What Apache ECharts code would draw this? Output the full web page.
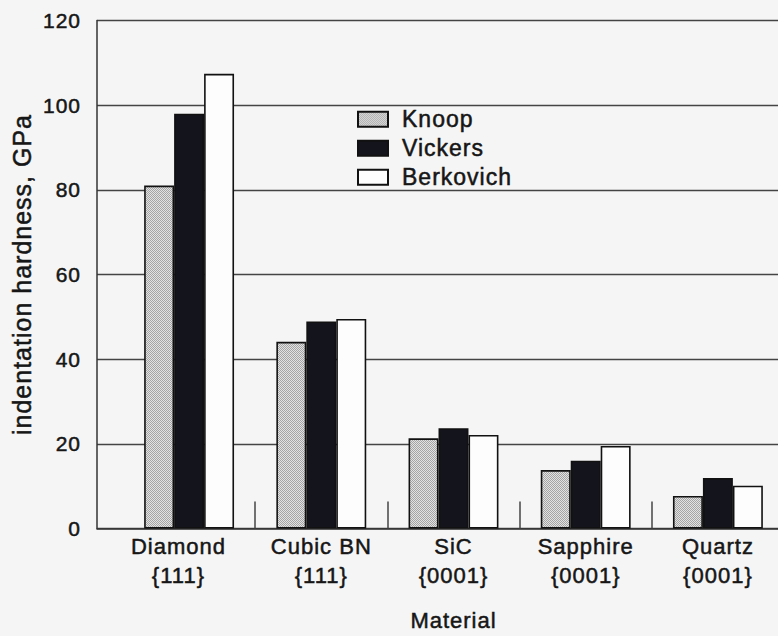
<!DOCTYPE html>
<html>
<head>
<meta charset="utf-8">
<title>Indentation hardness by material</title>
<script src="https://cdn.jsdelivr.net/npm/echarts@6/dist/echarts.min.js"></script>
<style>
  html, body { margin: 0; padding: 0; background: #f5f5f5; }
  #chart { width: 778px; height: 636px; letter-spacing: 1px; }
</style>
</head>
<body>
<div id="chart"></div>
<script>
// Materials (crystal face on the second line)
const materials = ['Diamond\n{111}', 'Cubic BN\n{111}', 'SiC\n{0001}', 'Sapphire\n{0001}', 'Quartz\n{0001}'];

// Hardness in GPa for each indenter geometry
const knoop     = [81, 44.1, 21.3, 13.8, 7.7];
const vickers   = [98, 48.9, 23.7, 16.0, 11.9];
const berkovich = [107.4, 49.5, 22.1, 19.5, 10.1];

const yTicks = { min: 0, max: 120, interval: 20 };

const FONT = 'Liberation Sans, Arial, Helvetica, sans-serif';
const INK = '#161616';

// fine stipple fill for the Knoop bars
function stipple() {
  const c = document.createElement('canvas');
  c.width = 2; c.height = 2;
  const g = c.getContext('2d');
  g.fillStyle = '#e2e2e2'; g.fillRect(0, 0, 2, 2);
  g.fillStyle = '#a4a4a4'; g.fillRect(0, 0, 1, 1); g.fillRect(1, 1, 1, 1);
  return c;
}

// slightly heavier strokes on glyphs, like printed type
const ink = (size) => ({
  fontFamily: FONT, fontSize: size, color: INK,
  textBorderColor: INK, textBorderWidth: 0.5
});

const chart = echarts.init(document.getElementById('chart'), null, { renderer: 'svg' });

const barStyle = (fill) => ({ color: fill, borderColor: '#111', borderWidth: 1.6 });

chart.setOption({
  backgroundColor: '#f5f5f5',
  animation: false,
  textStyle: { fontFamily: FONT, color: INK },
  grid: [
    // frame: value scale, gridlines and baseline
    { left: 97, right: 0, top: 20.5, bottom: 107.5, outerBoundsMode: 'none' },
    // bars: category bands (the last band runs past the right edge)
    { left: 123, width: 661, top: 20.5, bottom: 107.5, outerBoundsMode: 'none' }
  ],
  xAxis: [
    {
      type: 'value', gridIndex: 0, min: 0, max: 1,
      axisLine: { show: true, lineStyle: { color: '#333', width: 1.5 } },
      axisTick: { show: false }, axisLabel: { show: false }, splitLine: { show: false }
    },
    {
      type: 'category', gridIndex: 1, data: materials,
      axisLine: { show: false },
      axisTick: {
        show: true, inside: true, length: 27,
        interval: (i) => i > 0,
        lineStyle: { color: '#444', width: 1.5 }
      },
      axisLabel: {
        ...ink(22), lineHeight: 29, margin: 3,
        interval: 0, hideOverlap: false,
        // the first label sits a little left of its bar group
        formatter: (v, i) => i === 0
          ? v.split('\n').map(s => s + '\u00a0\u00a0\u00a0').join('\n')
          : v
      },
      name: 'Material', nameLocation: 'middle', nameGap: 81,
      nameTextStyle: ink(22)
    }
  ],
  yAxis: [
    {
      type: 'value', gridIndex: 0, ...yTicks,
      axisLine: { show: true, lineStyle: { color: '#333', width: 1.5 } },
      axisTick: { show: false },
      axisLabel: { ...ink(21), margin: 16 },
      splitLine: { show: true, lineStyle: { color: '#444', width: 1.4 } },
      name: 'indentation hardness, GPa', nameLocation: 'middle', nameGap: 63,
      nameTextStyle: ink(25)
    },
    {
      type: 'value', gridIndex: 1, ...yTicks, show: false
    }
  ],
  legend: {
    orient: 'vertical', left: 352, top: 102.5,
    itemWidth: 30, itemHeight: 15, itemGap: 5.5, icon: 'rect',
    textStyle: { ...ink(23), padding: [0, 0, 0, 9] },
    data: ['Knoop', 'Vickers', 'Berkovich']
  },
  series: [
    { name: 'Knoop', type: 'bar', xAxisIndex: 1, yAxisIndex: 1, data: knoop,
      barGap: '0%', barCategoryGap: '32%',
      itemStyle: barStyle({ image: stipple(), repeat: 'repeat' }) },
    { name: 'Vickers', type: 'bar', xAxisIndex: 1, yAxisIndex: 1, data: vickers,
      itemStyle: barStyle('#14141c') },
    { name: 'Berkovich', type: 'bar', xAxisIndex: 1, yAxisIndex: 1, data: berkovich,
      itemStyle: barStyle('#fdfdfd') }
  ]
});
</script>
</body>
</html>
